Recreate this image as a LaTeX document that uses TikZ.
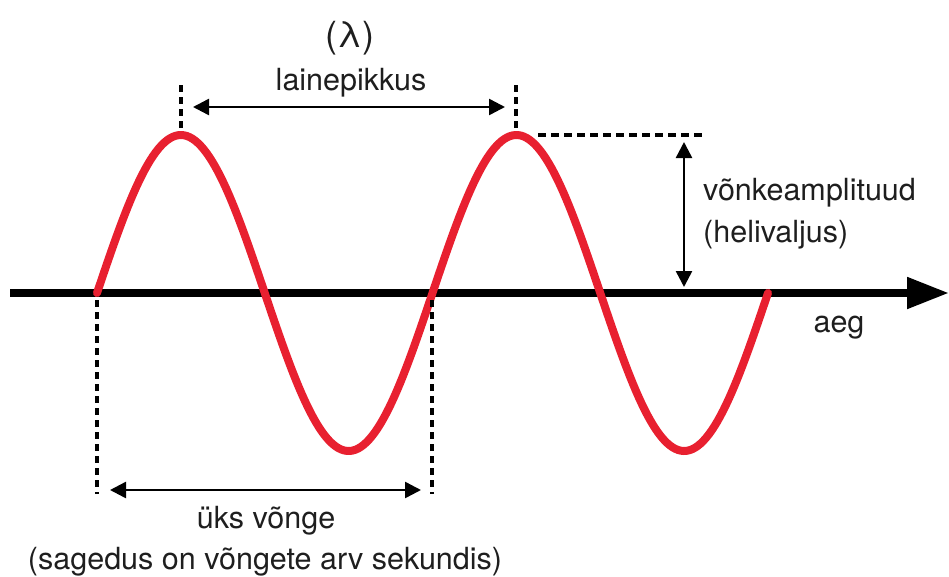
\documentclass[tikz,border=0pt]{standalone}
\usepackage{fontspec}
\setmainfont{TeX Gyre Heros}
\usetikzlibrary{arrows.meta}
\definecolor{wavered}{RGB}{232,32,48}
\definecolor{txt}{RGB}{30,30,30}
\begin{document}
\begin{tikzpicture}[x=1pt,y=-1pt,
  lbl/.style={inner sep=0pt,anchor=base,text=txt,font=\fontsize{30.5}{34}\selectfont},
  dotline/.style={line width=4.5pt,dash pattern=on 7pt off 5pt,black},
  dimarrow/.style={line width=2.5pt,black,{Triangle[length=16pt,width=16pt]}-{Triangle[length=16pt,width=16pt]}},
  wave/.style={line width=8pt,wavered,line cap=round}]
\useasboundingbox (0,0) rectangle (949,576);
% named points
\coordinate (axL) at (10,293);
\coordinate (axR) at (949,293);
\coordinate (p1t) at (181,85);  \coordinate (p1b) at (181,128);
\coordinate (p2t) at (516,85);  \coordinate (p2b) at (516,128);
\coordinate (wlL) at (193,107); \coordinate (wlR) at (505,107);
\coordinate (amL) at (538,135); \coordinate (amR) at (703,135);
\coordinate (amT) at (684,142); \coordinate (amB) at (684,287);
\coordinate (z1t) at (97,300);  \coordinate (z1b) at (97,494);
\coordinate (z2t) at (432,300); \coordinate (z2b) at (432,494);
\coordinate (pdL) at (110,490); \coordinate (pdR) at (421,490);
% axis
\draw[line width=8pt,black,-{Triangle[length=42pt,width=30pt]}] (axL) -- (axR);
% wave
\draw[wave] plot[domain=0:720,samples=240] ({97+\x/360*335.5},{293-158*sin(\x)});
% dotted guides
\draw[dotline] (p1t) -- (p1b);
\draw[dotline] (p2t) -- (p2b);
\draw[dotline,dash pattern=on 8pt off 5pt] (amL) -- (amR);
\draw[dotline] (z1t) -- (z1b);
\draw[dotline] (z2t) -- (z2b);
% dimension arrows
\draw[dimarrow] (wlL) -- (wlR);
\draw[dimarrow] (amT) -- (amB);
\draw[dimarrow] (pdL) -- (pdR);
% labels
\node[lbl,font=\fontsize{36}{40}\selectfont] (lam) at (350,47) {(λ)};
\node[lbl] (lp) at (351,90) {lainepikkus};
\node[lbl,anchor=base west] (va) at (703,200) {võnkeamplituud};
\node[lbl,anchor=base west] (hv) at (703,242) {(helivaljus)};
\node[lbl] (aeg) at (839,332) {aeg};
\node[lbl] (uv) at (266,528) {üks võnge};
\node[lbl] (sg) at (265,569) {(sagedus on võngete arv sekundis)};
\end{tikzpicture}
\end{document}
